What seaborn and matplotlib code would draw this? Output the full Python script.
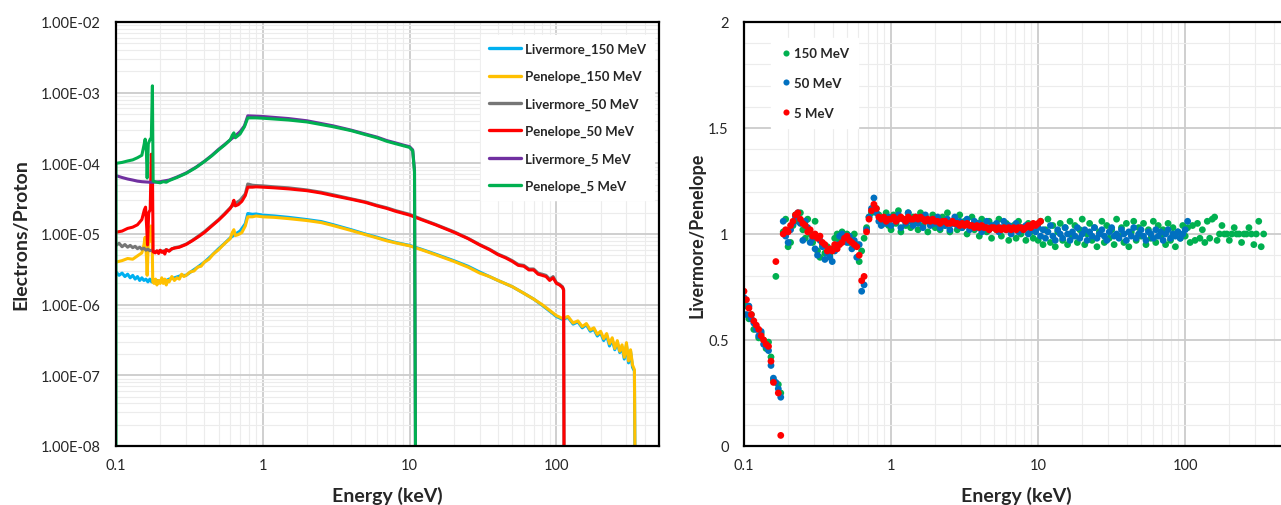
import matplotlib
matplotlib.use("Agg")
import matplotlib.pyplot as plt
import seaborn as sns
import numpy as np
import pandas as pd
from matplotlib.ticker import FixedLocator, FuncFormatter, LogLocator, MultipleLocator, NullFormatter

# ---------------- Left panel data (Energy keV, Electrons/Proton) ----------------
e_pen150 = [0.100, 0.110, 0.120, 0.130, 0.140, 0.150, 0.155, 0.158, 0.161, 0.163, 0.166, 0.170, 0.173, 0.176, 0.178,
            0.182, 0.186, 0.190, 0.195, 0.200, 0.205, 0.210, 0.215, 0.220, 0.225, 0.230, 0.240, 0.250, 0.260, 0.270,
            0.280, 0.290, 0.300, 0.320, 0.340, 0.360, 0.380, 0.400, 0.430, 0.460, 0.500, 0.530, 0.560,
            0.600, 0.620, 0.635, 0.650, 0.680, 0.720, 0.760, 0.790, 0.850, 0.900, 1.0, 1.2, 1.5, 2.0, 2.5, 3.0, 4.0,
            5.0, 6.0, 7.0, 8.0, 10, 12, 15, 20, 25, 30, 35, 40, 50, 60, 70, 80, 90, 100, 110, 120, 130, 140, 150,
            160, 170, 180, 190, 200, 210, 220, 230, 240, 250, 260, 270, 280, 290, 300, 310, 320, 330, 340, 345]
v_pen150 = [4.0e-6, 4.2e-6, 4.5e-6, 4.4e-6, 4.9e-6, 5.4e-6, 7.0e-6, 9.0e-6, 5.0e-6, 2.6e-6, 7.5e-6, 8.0e-6, 1.3e-5, 1.1e-5, 2.1e-6,
            2.0e-6, 2.3e-6, 1.9e-6, 2.2e-6, 2.0e-6, 2.4e-6, 2.0e-6, 2.3e-6, 1.9e-6, 2.2e-6, 2.1e-6, 2.5e-6, 2.2e-6, 2.4e-6, 2.3e-6,
            2.7e-6, 2.5e-6, 2.6e-6, 2.9e-6, 3.0e-6, 3.4e-6, 3.5e-6, 4.0e-6, 4.4e-6, 5.2e-6, 6.0e-6, 6.8e-6, 7.6e-6,
            8.6e-6, 1.05e-5, 1.15e-5, 9.5e-6, 9.8e-6, 1.05e-5, 1.3e-5, 1.75e-5, 1.75e-5, 1.8e-5, 1.75e-5, 1.72e-5, 1.65e-5, 1.55e-5, 1.45e-5, 1.32e-5, 1.12e-5,
            9.8e-6, 8.8e-6, 8.0e-6, 7.5e-6, 6.8e-6, 6.0e-6, 5.1e-6, 4.1e-6, 3.4e-6, 2.8e-6, 2.5e-6, 2.2e-6, 1.8e-6, 1.45e-6, 1.2e-6, 1.0e-6, 8.3e-7, 7.0e-7, 6.4e-7, 6.8e-7, 5.5e-7, 5.9e-7, 4.9e-7,
            5.4e-7, 4.4e-7, 4.7e-7, 3.8e-7, 4.2e-7, 3.3e-7, 3.9e-7, 2.8e-7, 3.4e-7, 2.4e-7, 3.1e-7, 2.2e-7, 2.7e-7, 1.8e-7, 2.9e-7, 1.6e-7, 2.3e-7, 1.4e-7, 1.2e-7, 1.0e-9]

e_liv150 = [0.100, 0.105, 0.110, 0.115, 0.120, 0.125, 0.130, 0.135, 0.140, 0.145, 0.150, 0.155, 0.160, 0.165, 0.170,
            0.175, 0.180, 0.190, 0.210, 0.230,
            0.250, 0.280, 0.300, 0.330, 0.360, 0.400, 0.450, 0.500, 0.550, 0.600, 0.650, 0.700, 0.760, 0.790, 0.850,
            0.900, 1.0, 1.2, 1.5, 2.0, 2.5, 3.0, 4.0, 5.0, 6.0, 7.0, 8.0, 10, 12, 15, 20, 25, 30, 35, 40, 50, 60, 70,
            80, 90, 100, 110, 120, 130, 140, 150, 160, 170, 180, 190, 200, 210, 220, 230, 240, 250, 260, 270, 280,
            290, 300, 310, 320, 330, 340, 345]
v_liv150 = [2.9e-6, 2.6e-6, 2.8e-6, 2.5e-6, 2.7e-6, 2.4e-6, 2.6e-6, 2.3e-6, 2.5e-6, 2.2e-6, 2.4e-6, 2.2e-6, 2.3e-6, 2.1e-6, 2.3e-6,
            2.1e-6, 2.1e-6, 2.2e-6, 2.1e-6, 2.3e-6,
            2.4e-6, 2.6e-6, 2.6e-6, 3.0e-6, 3.4e-6, 4.0e-6, 5.0e-6, 6.2e-6, 7.4e-6, 8.8e-6, 1.0e-5, 1.1e-5, 1.4e-5, 1.95e-5, 1.9e-5,
            1.92e-5, 1.85e-5, 1.8e-5, 1.72e-5, 1.6e-5, 1.5e-5, 1.36e-5, 1.15e-5, 1.0e-5, 9.0e-6, 8.2e-6, 7.6e-6, 6.9e-6, 6.1e-6, 5.2e-6, 4.2e-6, 3.5e-6, 2.9e-6, 2.5e-6, 2.2e-6, 1.8e-6, 1.45e-6, 1.2e-6,
            9.8e-7, 8.1e-7, 6.8e-7, 6.2e-7, 6.6e-7, 5.3e-7, 5.7e-7, 4.7e-7, 5.2e-7, 4.2e-7, 4.5e-7, 3.6e-7, 4.0e-7, 3.1e-7, 3.7e-7, 2.6e-7, 3.2e-7, 2.3e-7, 2.9e-7, 2.1e-7, 2.5e-7,
            1.7e-7, 2.7e-7, 1.5e-7, 2.2e-7, 1.3e-7, 1.15e-7, 1.0e-9]

e_pen50 = [0.100, 0.110, 0.120, 0.130, 0.140, 0.150, 0.156, 0.159, 0.162, 0.164, 0.167, 0.171, 0.174, 0.177, 0.179,
           0.185, 0.19, 0.195, 0.20, 0.205, 0.21, 0.215, 0.22, 0.23, 0.24, 0.25, 0.27, 0.30, 0.33, 0.36, 0.40, 0.45,
           0.50, 0.55, 0.60, 0.62, 0.635,
           0.65, 0.68, 0.72, 0.76, 0.79, 0.85, 0.90, 1.0, 1.2, 1.5, 2.0, 2.5, 3.0, 4.0, 5.0, 6.0, 7.0, 8.0, 10, 12,
           15, 20, 25, 30, 35, 40, 45, 50, 55, 60, 65, 70, 75, 80, 85, 90, 95, 100, 105, 110, 112, 113]
v_pen50 = [1.06e-5, 1.1e-5, 1.2e-5, 1.25e-5, 1.35e-5, 1.6e-5, 2.2e-5, 2.4e-5, 1.2e-5, 7.0e-6, 2.0e-5, 2.2e-5, 1.35e-4, 1.0e-4, 5.6e-6,
           5.4e-6, 5.8e-6, 5.3e-6, 5.9e-6, 5.5e-6, 5.7e-6, 5.2e-6, 6.0e-6, 5.7e-6, 6.2e-6, 6.3e-6, 6.5e-6, 7.1e-6, 8.0e-6, 9.0e-6, 1.05e-5, 1.3e-5,
           1.57e-5, 1.9e-5, 2.3e-5, 2.6e-5, 3.0e-5,
           2.5e-5, 2.6e-5, 2.9e-5, 3.5e-5, 4.6e-5, 4.6e-5, 4.65e-5, 4.6e-5, 4.5e-5, 4.35e-5, 4.1e-5, 3.8e-5, 3.5e-5, 3.1e-5, 2.8e-5, 2.5e-5, 2.3e-5, 2.1e-5, 1.85e-5, 1.6e-5,
           1.35e-5, 1.06e-5, 8.6e-6, 7.0e-6, 6.0e-6, 5.1e-6, 4.6e-6, 4.1e-6, 3.6e-6, 3.5e-6, 3.1e-6, 3.1e-6, 2.7e-6, 2.6e-6, 2.5e-6, 2.2e-6, 2.4e-6, 2.0e-6, 1.9e-6, 1.75e-6, 1.6e-6, 1.0e-9]

e_liv50 = [0.100, 0.105, 0.110, 0.115, 0.120, 0.125, 0.130, 0.135, 0.140, 0.145, 0.150, 0.155, 0.160, 0.165, 0.170,
           0.175, 0.180, 0.190, 0.20, 0.21, 0.22,
           0.23, 0.25, 0.27, 0.30, 0.33, 0.36, 0.40, 0.45, 0.50, 0.55, 0.60, 0.65, 0.70, 0.76, 0.79, 0.85, 0.90,
           1.0, 1.2, 1.5, 2.0, 2.5, 3.0, 4.0, 5.0, 6.0, 7.0, 8.0, 10, 12, 15, 20, 25, 30, 35, 40, 45, 50, 55, 60,
           65, 70, 75, 80, 85, 90, 95, 100, 105, 110, 112, 113]
v_liv50 = [6.9e-6, 7.4e-6, 6.6e-6, 7.1e-6, 6.5e-6, 6.9e-6, 6.4e-6, 6.7e-6, 6.2e-6, 6.5e-6, 6.1e-6, 6.3e-6, 5.9e-6, 6.1e-6, 5.8e-6,
           5.9e-6, 5.7e-6, 5.6e-6, 5.8e-6, 5.7e-6, 6.0e-6,
           5.8e-6, 6.4e-6, 6.6e-6, 7.2e-6, 8.1e-6, 9.2e-6, 1.08e-5, 1.33e-5, 1.6e-5, 1.95e-5, 2.35e-5, 2.7e-5, 3.0e-5, 3.7e-5, 5.1e-5, 4.9e-5, 4.85e-5,
           4.8e-5, 4.65e-5, 4.5e-5, 4.2e-5, 3.9e-5, 3.6e-5, 3.15e-5, 2.85e-5, 2.55e-5, 2.35e-5, 2.15e-5, 1.9e-5, 1.63e-5, 1.37e-5, 1.08e-5, 8.7e-6, 7.1e-6, 6.1e-6, 5.2e-6, 4.7e-6, 4.2e-6, 3.7e-6, 3.6e-6,
           3.2e-6, 3.2e-6, 2.8e-6, 2.7e-6, 2.6e-6, 2.3e-6, 2.5e-6, 2.05e-6, 1.95e-6, 1.8e-6, 1.65e-6, 1.0e-9]

e_liv5 = [0.100, 0.110, 0.120, 0.130, 0.140, 0.150, 0.170, 0.180, 0.20, 0.23, 0.26, 0.30, 0.35, 0.40, 0.45,
          0.50, 0.55, 0.60, 0.65, 0.70, 0.75, 0.79, 0.90, 1.0, 1.5, 2.0, 3.0, 4.0, 5.0, 6.0, 7.0, 8.0, 9.0, 10,
          10.5, 10.8, 11.0]
v_liv5 = [6.7e-5, 6.3e-5, 6.0e-5, 5.8e-5, 5.6e-5, 5.5e-5, 5.4e-5, 5.4e-5, 5.5e-5, 5.8e-5, 6.4e-5, 7.3e-5, 8.8e-5, 1.07e-4, 1.3e-4,
          1.58e-4, 1.85e-4, 2.15e-4, 2.45e-4, 2.8e-4, 3.4e-4, 4.7e-4, 4.65e-4, 4.6e-4, 4.3e-4, 4.0e-4, 3.4e-4, 2.95e-4, 2.6e-4, 2.35e-4, 2.1e-4, 1.95e-4, 1.82e-4, 1.72e-4,
          1.55e-4, 8.0e-5, 1.0e-9]

e_pen5 = [0.100, 0.100, 0.110, 0.120, 0.130, 0.140, 0.150, 0.155, 0.158, 0.161, 0.163, 0.166, 0.171, 0.174, 0.177, 0.179,
          0.19, 0.20, 0.21, 0.22, 0.23, 0.26, 0.30, 0.35, 0.40, 0.45, 0.50, 0.55, 0.60, 0.62, 0.635, 0.65, 0.70,
          0.75, 0.79, 0.90, 1.0, 1.5, 2.0, 3.0, 4.0, 5.0, 6.0, 7.0, 8.0, 9.0, 10, 10.5, 10.8, 11.0]
v_pen5 = [1.0e-9, 1.0e-4, 1.03e-4, 1.08e-4, 1.12e-4, 1.2e-4, 1.3e-4, 1.8e-4, 2.2e-4, 1.5e-4, 6.2e-5, 1.9e-4, 2.2e-4, 2.3e-4, 1.25e-3, 5.6e-5,
          5.4e-5, 5.3e-5, 5.5e-5, 5.4e-5, 5.7e-5, 6.3e-5, 7.2e-5, 8.7e-5, 1.06e-4, 1.28e-4, 1.55e-4, 1.82e-4, 2.15e-4, 2.5e-4, 2.7e-4, 2.3e-4, 2.6e-4,
          3.3e-4, 4.4e-4, 4.4e-4, 4.35e-4, 4.1e-4, 3.85e-4, 3.3e-4, 2.9e-4, 2.55e-4, 2.3e-4, 2.05e-4, 1.9e-4, 1.78e-4, 1.68e-4, 1.5e-4, 7.5e-5, 1.0e-9]

line_names = ["Livermore_150 MeV", "Penelope_150 MeV", "Livermore_50 MeV",
              "Penelope_50 MeV", "Livermore_5 MeV", "Penelope_5 MeV"]
line_colors = ["#00b0f0", "#ffc000", "#767676", "#ff0000", "#7030a0", "#00b050"]

# ---------------- Right panel data (Livermore/Penelope ratio) ----------------
energy_bins = [
    0.1000, 0.1039, 0.1080, 0.1122, 0.1166, 0.1212, 0.1259, 0.1308, 0.1359, 0.1413,
    0.1468, 0.1526, 0.1585, 0.1647, 0.1711, 0.1778, 0.1848, 0.1920, 0.1995, 0.2073,
    0.2154, 0.2239, 0.2326, 0.2417, 0.2512, 0.2610, 0.2712, 0.2818, 0.2929, 0.3043,
    0.3162, 0.3286, 0.3415, 0.3548, 0.3687, 0.3831, 0.3981, 0.4137, 0.4299, 0.4467,
    0.4642, 0.4823, 0.5012, 0.5208, 0.5412, 0.5623, 0.5843, 0.6072, 0.6310, 0.6556,
    0.6813, 0.7079, 0.7356, 0.7644, 0.7943, 0.8254, 0.8577, 0.8913, 0.9261, 0.9624,
    1.000, 1.039, 1.080, 1.122, 1.166, 1.212, 1.259, 1.308, 1.359, 1.413,
    1.468, 1.526, 1.585, 1.647, 1.711, 1.778, 1.848, 1.920, 1.995, 2.073,
    2.154, 2.239, 2.326, 2.417, 2.512, 2.610, 2.712, 2.818, 2.929, 3.043,
    3.162, 3.286, 3.415, 3.548, 3.687, 3.831, 3.981, 4.137, 4.299, 4.467,
    4.642, 4.823, 5.012, 5.208, 5.412, 5.623, 5.843, 6.072, 6.310, 6.556,
    6.813, 7.079, 7.356, 7.644, 7.943, 8.254, 8.577, 8.913, 9.261, 9.624,
    10.00, 10.39, 10.80, 11.22, 11.66, 12.12, 12.59, 13.08, 13.59, 14.13,
    14.68, 15.26, 15.85, 16.47, 17.11, 17.78, 18.48, 19.20, 19.95, 20.73,
    21.54, 22.39, 23.26, 24.17, 25.12, 26.10, 27.12, 28.18, 29.29, 30.43,
    31.62, 32.86, 34.15, 35.48, 36.87, 38.31, 39.81, 41.37, 42.99, 44.67,
    46.42, 48.23, 50.12, 52.08, 54.12, 56.23, 58.43, 60.72, 63.10, 65.56,
    68.13, 70.79, 73.56, 76.44, 79.43, 82.54, 85.77, 89.13, 92.61, 96.24,
    100.0, 103.9, 108.0, 112.2, 116.6, 121.2, 125.9, 130.8, 135.9, 141.3,
    146.8, 152.6, 158.5, 164.7, 171.1, 177.8, 184.8, 192.0, 199.5, 207.3,
    215.4, 223.9, 232.6, 241.7, 251.2, 261.0, 271.2, 281.8, 292.9, 304.3,
    316.2, 328.6, 341.5]

ratio_150 = [
    0.68, 0.66, 0.60, 0.62, 0.55, 0.56, 0.51, 0.53, 0.50, 0.46, 0.49, 0.42, 0.31, 0.80, 0.29, 0.25,
    1.01, 1.07, 0.94, 0.96, 1.04, 1.09, 1.06, 1.10, 1.02, 0.98, 1.07, 1.00, 0.96, 1.06, 0.92,
    0.89, 0.95, 0.91, 0.94, 0.90, 0.93, 0.98, 1.00, 0.97, 1.01, 0.99, 1.00, 0.96, 0.98, 1.00, 0.95,
    0.87, 0.92, 0.98, 1.03, 1.08, 1.10, 1.13, 1.12, 1.09, 1.07, 1.05, 1.10, 1.04,
    1.02, 1.09, 1.05, 1.11, 1.01, 1.07, 1.04, 1.10, 1.03, 1.08,
    1.06, 1.02, 1.10, 1.04, 1.08, 1.01, 1.06, 1.09, 1.03, 1.07,
    1.02, 1.08, 1.04, 1.10, 1.01, 1.05, 1.07, 1.02, 1.09, 1.03,
    1.06, 1.00, 1.04, 1.08, 1.02, 1.05, 0.99, 1.07, 1.03, 1.01,
    1.06, 0.98, 1.04, 1.02, 1.07, 0.99, 1.03, 1.05, 0.97, 1.02,
    1.04, 0.98, 1.06, 1.00, 1.03, 0.97, 1.05, 1.01, 0.98, 1.04,
    0.97, 1.06, 0.95, 1.02, 1.07, 0.96, 1.04, 0.94, 1.01, 1.05,
    0.97, 1.03, 0.95, 1.06, 0.99, 1.04, 0.96, 1.02, 1.07, 0.95,
    1.00, 1.05, 0.97, 1.03, 0.94, 1.01, 1.06, 0.96, 1.04, 0.98,
    1.02, 0.95, 1.07, 0.99, 1.03, 0.96, 1.05, 0.94, 1.01, 1.06,
    0.97, 1.03, 0.99, 1.05, 0.95, 1.02, 0.98, 1.06, 0.96, 1.04,
    0.99, 1.02, 0.95, 1.05, 0.97, 1.03, 0.94, 1.01, 0.98, 1.04,
    0.99, 1.03, 0.96, 1.04, 0.97, 1.05, 0.98, 1.02, 0.96, 1.06,
    0.98, 1.07, 1.08, 0.97, 1.00, 1.04, 1.00, 1.00, 0.97, 1.00,
    1.03, 1.00, 1.00, 0.96, 1.00, 1.00, 1.03, 1.00, 0.95, 1.00,
    1.06, 0.94, 1.00]

ratio_50 = [
    0.70, 0.62, 0.66, 0.60, 0.58, 0.55, 0.52, 0.54, 0.48, 0.47, 0.45, 0.38, 0.32, 0.30, 0.27, 0.23,
    1.06, 0.99, 0.96, 1.02, 1.05, 1.08, 1.10, 1.05, 0.97, 1.06, 1.03, 0.96, 0.98, 0.93, 0.90,
    0.97, 0.94, 0.88, 0.91, 0.89, 0.87, 0.92, 0.95, 0.99, 1.00, 0.97, 0.96, 0.99, 0.93, 0.97,
    0.89, 0.95, 0.73, 0.76, 1.02, 1.08, 1.12, 1.17, 1.10, 1.06, 1.04, 1.07, 1.05, 1.08,
    1.04, 1.08, 1.06, 1.09, 1.03, 1.07, 1.05, 1.10, 1.06, 1.04,
    1.08, 1.05, 1.07, 1.03, 1.09, 1.06, 1.04, 1.07, 1.05, 1.08,
    1.03, 1.06, 1.04, 1.07, 1.02, 1.05, 1.08, 1.04, 1.06, 1.03,
    1.05, 1.07, 1.02, 1.04, 1.06, 1.03, 1.05, 1.01, 1.04, 1.06,
    1.02, 1.04, 1.03, 1.05, 1.01, 1.03, 1.06, 1.02, 1.04, 1.00,
    1.03, 1.05, 1.01, 1.03, 1.02, 1.04, 1.00, 1.02, 1.04, 1.01,
    1.03, 0.99, 1.02, 0.98, 1.01, 1.04, 0.99, 0.97, 1.02, 1.00,
    0.98, 1.03, 1.00, 0.97, 1.01, 0.99, 1.03, 0.98, 1.00, 1.02,
    0.97, 1.01, 0.99, 1.03, 0.98, 1.00, 1.02, 0.99, 0.97, 1.01,
    1.03, 0.99, 1.00, 0.98, 1.02, 1.00, 0.97, 1.01, 0.99, 1.03,
    0.98, 1.00, 1.02, 0.99, 0.97, 1.01, 1.00, 0.98, 1.02, 0.99,
    1.01, 0.97, 1.00, 1.02, 0.98, 1.00, 0.99, 1.01, 0.98, 1.00,
    1.02, 1.06]

ratio_5 = [
    0.73, 0.69, 0.65, 0.62, 0.59, 0.57, 0.55, 0.52, 0.50, 0.48, 0.47, 0.40, 0.30, 0.87, 0.25, 0.05,
    1.00, 1.02, 1.01, 1.04, 1.06, 1.09, 1.10, 1.07, 1.05, 1.04, 1.01, 1.02, 0.99, 1.00, 0.98,
    0.99, 0.96, 0.95, 0.92, 0.93, 0.92, 0.95, 0.93, 0.95, 0.96, 0.98, 0.99, 0.97, 0.96, 0.95,
    0.94, 0.90, 0.78, 0.80, 1.01, 1.07, 1.11, 1.14, 1.12, 1.08, 1.07, 1.08, 1.06, 1.07,
    1.07, 1.08, 1.06, 1.07, 1.08, 1.07, 1.06, 1.08, 1.07, 1.07, 1.08,
    1.07, 1.08, 1.07, 1.06, 1.07, 1.06, 1.07, 1.06, 1.06, 1.05, 1.06, 1.06, 1.05,
    1.05, 1.06, 1.05, 1.05, 1.04, 1.05, 1.04, 1.05, 1.04, 1.04, 1.03, 1.04,
    1.03, 1.04, 1.03, 1.03, 1.02, 1.03, 1.03, 1.02, 1.03, 1.02, 1.03, 1.02,
    1.03, 1.02, 1.03, 1.02, 1.03, 1.03, 1.02, 1.03, 1.04, 1.03, 1.05, 1.04,
    1.05, 1.06]

ratio_names = ["150 MeV", "50 MeV", "5 MeV"]
ratio_colors = ["#00b050", "#0070c0", "#ff0000"]

# ---------------- Build data frames ----------------
line_sets = [(e_liv150, v_liv150), (e_pen150, v_pen150), (e_liv50, v_liv50),
             (e_pen50, v_pen50), (e_liv5, v_liv5), (e_pen5, v_pen5)]
df_lines = pd.concat(
    [pd.DataFrame({"energy": e, "value": v, "series": n}) for n, (e, v) in zip(line_names, line_sets)],
    ignore_index=True)

ratio_sets = [ratio_150, ratio_50, ratio_5]
df_pts = pd.concat(
    [pd.DataFrame({"energy": energy_bins[:len(r)], "ratio": r, "beam": n}) for n, r in zip(ratio_names, ratio_sets)],
    ignore_index=True)

# ---------------- Style ----------------
sns.set_style("white")
plt.rcParams["font.family"] = ["Lato", "DejaVu Sans"]
plt.rcParams["axes.linewidth"] = 1.6

W, H = 1281, 506
fig = plt.figure(figsize=(W / 100, H / 100), dpi=100)
ax1 = fig.add_axes([116 / W, 1 - 447 / H, 543 / W, 424 / H])
ax2 = fig.add_axes([744 / W, 1 - 447 / H, 544 / W, 424 / H])

tick_col = "#262626"

# ---------------- Left panel ----------------
ax1.set_xscale("log")
ax1.set_yscale("log")
sns.lineplot(data=df_lines, x="energy", y="value", hue="series", hue_order=line_names,
             palette=dict(zip(line_names, line_colors)), estimator=None, sort=False,
             linewidth=2.2, ax=ax1)
ax1.set_xlim(0.1, 500)
ax1.set_ylim(1e-8, 1e-2)
ax1.xaxis.set_major_locator(FixedLocator([0.1, 1, 10, 100]))
ax1.xaxis.set_major_formatter(FuncFormatter(lambda v, p: f"{v:g}"))
ax1.xaxis.set_minor_locator(LogLocator(base=10, subs=np.arange(2, 10)))
ax1.xaxis.set_minor_formatter(NullFormatter())
ax1.yaxis.set_major_locator(FixedLocator([10.0 ** k for k in range(-8, -1)]))
ax1.yaxis.set_major_formatter(FuncFormatter(lambda v, p: f"{v:.2E}"))
ax1.yaxis.set_minor_locator(LogLocator(base=10, subs=np.arange(2, 10), numticks=20))
ax1.yaxis.set_minor_formatter(NullFormatter())
ax1.grid(which="major", color="#cccccc", linewidth=1.3)
ax1.grid(which="minor", color="#ececec", linewidth=0.8)
ax1.set_axisbelow(True)
ax1.set_xlabel("Energy (keV)", fontsize=14, fontweight="bold")
ax1.set_ylabel("Electrons/Proton", fontsize=14, fontweight="bold")
ax1.xaxis.set_label_coords(0.5, -0.093)
ax1.yaxis.set_label_coords(-0.16, 0.5)
h, l = ax1.get_legend_handles_labels()
for hh in h:
    hh.set_linewidth(2.4)
ax1.legend(h, l, loc="upper left", bbox_to_anchor=(0.66, 0.985), frameon=True, facecolor="white",
           edgecolor="white", framealpha=1, fancybox=False, prop={"weight": "bold", "size": 9.5},
           handlelength=2.4, handletextpad=0.3, labelspacing=1.15, borderpad=0.6)

# ---------------- Right panel ----------------
ax2.set_xscale("log")
sns.scatterplot(data=df_pts, x="energy", y="ratio", hue="beam", hue_order=ratio_names,
                palette=dict(zip(ratio_names, ratio_colors)), s=24, linewidth=0, ax=ax2)
ax2.set_xlim(0.1, 500)
ax2.set_ylim(0, 2)
ax2.xaxis.set_major_locator(FixedLocator([0.1, 1, 10, 100]))
ax2.xaxis.set_major_formatter(FuncFormatter(lambda v, p: f"{v:g}"))
ax2.xaxis.set_minor_locator(LogLocator(base=10, subs=np.arange(2, 10)))
ax2.xaxis.set_minor_formatter(NullFormatter())
ax2.yaxis.set_major_locator(FixedLocator([0, 0.5, 1, 1.5, 2]))
ax2.yaxis.set_major_formatter(FuncFormatter(lambda v, p: f"{v:g}"))
ax2.yaxis.set_minor_locator(MultipleLocator(0.1))
ax2.grid(which="major", color="#cccccc", linewidth=1.3)
ax2.grid(which="minor", color="#ececec", linewidth=0.8)
ax2.set_axisbelow(True)
ax2.set_xlabel("Energy (keV)", fontsize=14, fontweight="bold")
ax2.set_ylabel("Livermore/Penelope", fontsize=13, fontweight="bold")
ax2.xaxis.set_label_coords(0.5, -0.093)
ax2.yaxis.set_label_coords(-0.071, 0.5)
h2, l2 = ax2.get_legend_handles_labels()
ax2.legend(h2, l2, loc="upper left", bbox_to_anchor=(0.038, 0.978), frameon=True, facecolor="white",
           edgecolor="white", framealpha=1, fancybox=False, prop={"weight": "bold", "size": 9.5},
           handlelength=0.8, handletextpad=0.2, labelspacing=1.35, borderpad=0.7, markerscale=0.9)

for ax in (ax1, ax2):
    for s in ax.spines.values():
        s.set_color("black")
        s.set_linewidth(1.6)
    ax.tick_params(which="both", direction="in", color="black", width=1.2,
                   labelcolor=tick_col, labelsize=10.5, top=False, right=False)
    ax.tick_params(which="major", length=4)
    ax.tick_params(which="minor", length=3)
    ax.tick_params(axis="x", which="major", pad=9)
    ax.tick_params(axis="y", which="major", pad=11)

fig.savefig("out.png", dpi=100)
